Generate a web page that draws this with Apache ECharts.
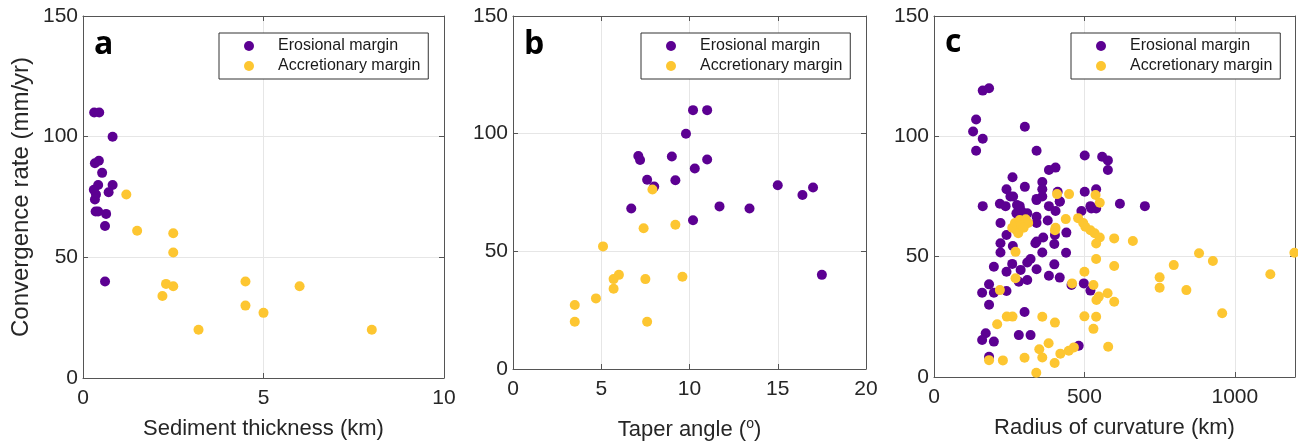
<!DOCTYPE html>
<html>
<head>
<meta charset="utf-8">
<script src="https://cdn.jsdelivr.net/npm/echarts@6/dist/echarts.min.js"></script>
<style>
  html, body { margin: 0; padding: 0; background: #fff; }
  #chart { width: 1298px; height: 446px; }
</style>
</head>
<body>
<div id="chart"></div>
<script>
// Series names shared by the three panels
const seriesNames = ['Erosional margin', 'Accretionary margin'];

// Panel a: sediment thickness (km) vs convergence rate (mm/yr)
const erosionalSediment = [
  [0.31, 110], [0.45, 110], [0.82, 100], [0.33, 89], [0.44, 90], [0.53, 85],
  [0.42, 80], [0.30, 78], [0.82, 80], [0.71, 77], [0.36, 76], [0.33, 74],
  [0.35, 69], [0.42, 69], [0.64, 68], [0.61, 63], [0.61, 40]
];
const accretionarySediment = [
  [1.2, 76], [1.5, 61], [2.5, 60], [2.5, 52], [2.3, 39], [2.5, 38], [2.2, 34],
  [3.2, 20], [4.5, 40], [4.5, 30], [5.0, 27], [6.0, 38], [8.0, 20]
];

// Panel b: taper angle (deg) vs convergence rate (mm/yr)
const erosionalTaper = [
  [10.2, 110], [11.0, 110], [9.8, 100], [7.1, 90.5], [7.2, 88.8], [9.0, 90.3],
  [11.0, 89], [10.3, 85.2], [7.6, 80.4], [9.2, 80.2], [8.0, 77.5], [15.0, 78.1],
  [16.4, 73.9], [17.0, 77.1], [6.7, 68.2], [11.7, 69.1], [13.4, 68.2],
  [10.2, 63.2], [17.5, 40]
];
const accretionaryTaper = [
  [7.9, 76.3], [7.4, 59.8], [9.2, 61.3], [5.1, 52.1], [6.0, 40], [5.7, 38.2],
  [7.5, 38.2], [9.6, 39.2], [5.7, 34.1], [4.7, 30], [3.5, 27.2], [3.5, 20.1],
  [7.6, 20.1]
];

// Panel c: radius of curvature (km) vs convergence rate (mm/yr)
const erosionalRadius = [
  [162, 119], [183, 120], [140, 107], [130, 102], [162, 99], [140, 94], [302, 104],
  [341, 94], [501, 92], [559, 91.5], [578, 90], [578, 86], [382, 86], [404, 87],
  [261, 83], [302, 79], [360, 81], [360, 78], [360, 75], [241, 78], [254, 75],
  [341, 74], [411, 77], [418, 73], [501, 77], [539, 78], [263, 75],
  [162, 71], [219, 72], [238, 71], [276, 71.5], [290, 69], [285, 71], [274, 68],
  [310, 68], [382, 71], [404, 69], [490, 69], [520, 71], [539, 70], [523, 70],
  [618, 72], [701, 71], [341, 73.5], [418, 72.8], [300, 66], [378, 65],
  [221, 64], [341, 66.6], [341, 64], [440, 60], [402, 59], [241, 59], [363, 58],
  [221, 55.6], [262, 54.4], [337, 55.6], [341, 56.3], [400, 55.3], [221, 51.7],
  [360, 51.7], [439, 51.6],
  [199, 45.8], [241, 43.7], [260, 47], [288, 44.5], [310, 47.6], [321, 49],
  [341, 44.8], [400, 46.8], [382, 42.1], [418, 41.3], [310, 40.3], [282, 39.6],
  [183, 38.5], [160, 35], [199, 35], [241, 35.7], [457, 38.2], [498, 38.9],
  [520, 35.9], [183, 30], [301, 27], [172, 18.2], [160, 15.4], [199, 14.7],
  [282, 17.4], [321, 17.4], [481, 13], [183, 8.4]
];
const accretionaryRadius = [
  [409, 76], [449, 76], [537, 75.6], [551, 72.4], [260, 62], [269, 64], [285, 65.2],
  [305, 65.5], [274, 61], [280, 59.7], [291, 63.2], [313, 64], [298, 62], [438, 65.6],
  [479, 66], [404, 62], [496, 64], [503, 62.4], [520, 61], [534, 59.7], [551, 58],
  [402, 61], [539, 55.5], [599, 57.6], [661, 56.5], [271, 52], [881, 51.4],
  [1198, 51.6], [539, 49], [927, 48.2], [599, 46.1], [797, 46.5], [500, 43.7],
  [1118, 42.7], [271, 41], [750, 41.4], [459, 38.9], [530, 38.2], [750, 37.1],
  [839, 36.1], [219, 36.1], [548, 33.4], [540, 32], [577, 34.8], [599, 31.3],
  [958, 26.5], [242, 25.1], [261, 25.1], [360, 25], [402, 22.6], [500, 25.2],
  [539, 25], [530, 20], [210, 21.9], [381, 14], [350, 11.5], [360, 8.1], [301, 8],
  [229, 6.9], [183, 7], [401, 5.8], [420, 9.7], [448, 10.9], [465, 12.3],
  [579, 12.6], [340, 1.8]
];

// Axis ranges and labels per panel
const xTitles = ['Sediment thickness (km)', 'Taper angle ({sup|o})', 'Radius of curvature (km)'];
const xMax = [10, 20, 1200];
const xInterval = [5, 5, 500];
const yTitle = 'Convergence rate (mm/yr)';
const yMax = 150;
const yInterval = 50;
const panelLetters = ['a', 'b', 'c'];

const FONT = "'Liberation Sans', Arial, Helvetica, sans-serif";
const PURPLE = '#5c0092';
const YELLOW = '#fdc631';
const AXIS = '#555555';
const GRID = '#e6e6e6';
const TEXT = '#262626';

const grids = [
  { left: 83, top: 16, width: 361, height: 362 },
  { left: 513, top: 16, width: 353, height: 354 },
  { left: 934, top: 16, width: 361, height: 361 }
];
const xNameGap = [40, 48, 40];
const legendLeft = [219, 641, 1071];
const letterPos = [[94, 29], [524, 29], [945, 27]];

const axisLine = { show: true, onZero: false, lineStyle: { color: AXIS, width: 1 } };
const axisTick = { show: true, inside: true, length: 5, lineStyle: { color: AXIS } };

const xAxes = [];
const yAxes = [];
[0, 1, 2].forEach(i => {
  xAxes.push({
    gridIndex: i, type: 'value', position: 'bottom',
    min: 0, max: xMax[i], interval: xInterval[i],
    axisLine, axisTick,
    splitLine: { show: true, lineStyle: { color: GRID, width: 1 } },
    axisLabel: {
      margin: 10, fontSize: 21, color: TEXT, fontFamily: FONT,
      showMaxLabel: i !== 2, formatter: v => String(v)
    },
    name: xTitles[i], nameLocation: 'middle', nameGap: xNameGap[i],
    nameTextStyle: {
      fontSize: 22, color: TEXT, fontFamily: FONT,
      rich: { sup: { fontSize: 14, fontFamily: FONT, color: TEXT, padding: [0, 0, 12, 0] } }
    }
  });
  yAxes.push({
    gridIndex: i, type: 'value', position: 'left',
    min: 0, max: yMax, interval: yInterval,
    axisLine, axisTick,
    splitLine: { show: true, lineStyle: { color: GRID, width: 1 } },
    axisLabel: { margin: 5, fontSize: 21, color: TEXT, fontFamily: FONT },
    name: i === 0 ? yTitle : '', nameLocation: 'middle', nameGap: 50,
    nameTextStyle: { fontSize: 24, color: TEXT, fontFamily: FONT }
  });
});
// Box edges (top and right) with inward ticks
[0, 1, 2].forEach(i => {
  xAxes.push({
    gridIndex: i, type: 'value', position: 'top',
    min: 0, max: xMax[i], interval: xInterval[i],
    axisLine, axisTick, axisLabel: { show: false }, splitLine: { show: false }
  });
  yAxes.push({
    gridIndex: i, type: 'value', position: 'right',
    min: 0, max: yMax, interval: yInterval,
    axisLine, axisTick, axisLabel: { show: false }, splitLine: { show: false }
  });
});

const panelData = [
  [erosionalSediment, accretionarySediment],
  [erosionalTaper, accretionaryTaper],
  [erosionalRadius, accretionaryRadius]
];
const series = [];
panelData.forEach((pair, i) => {
  pair.forEach((data, k) => {
    series.push({
      type: 'scatter', name: seriesNames[k],
      xAxisIndex: i, yAxisIndex: i,
      data, symbol: 'circle', symbolSize: 10,
      itemStyle: { color: k === 0 ? PURPLE : YELLOW, opacity: 1 },
      emphasis: { disabled: true }
    });
  });
});

const legends = [0, 1, 2].map(i => ({
  left: legendLeft[i], top: 33, orient: 'vertical',
  data: seriesNames, icon: 'circle',
  itemWidth: 48, itemHeight: 10, itemGap: 0,
  padding: [3, 8, 3, 25],
  borderColor: '#333', borderWidth: 1, backgroundColor: '#fff',
  selectedMode: false,
  textStyle: { fontSize: 16, lineHeight: 20, color: '#1a1a1a', fontFamily: FONT }
}));

const letters = panelLetters.map((t, i) => ({
  type: 'text', left: letterPos[i][0], top: letterPos[i][1],
  style: { text: t, fontSize: 32, fontWeight: 'bold', fontFamily: "'Open Sans', sans-serif", fill: '#000' },
  z: 10
}));

const chart = echarts.init(document.getElementById('chart'), null, { renderer: 'canvas' });
chart.setOption({
  animation: false,
  backgroundColor: '#fff',
  grid: grids,
  xAxis: xAxes,
  yAxis: yAxes,
  legend: legends,
  graphic: letters,
  series
});
</script>
</body>
</html>
